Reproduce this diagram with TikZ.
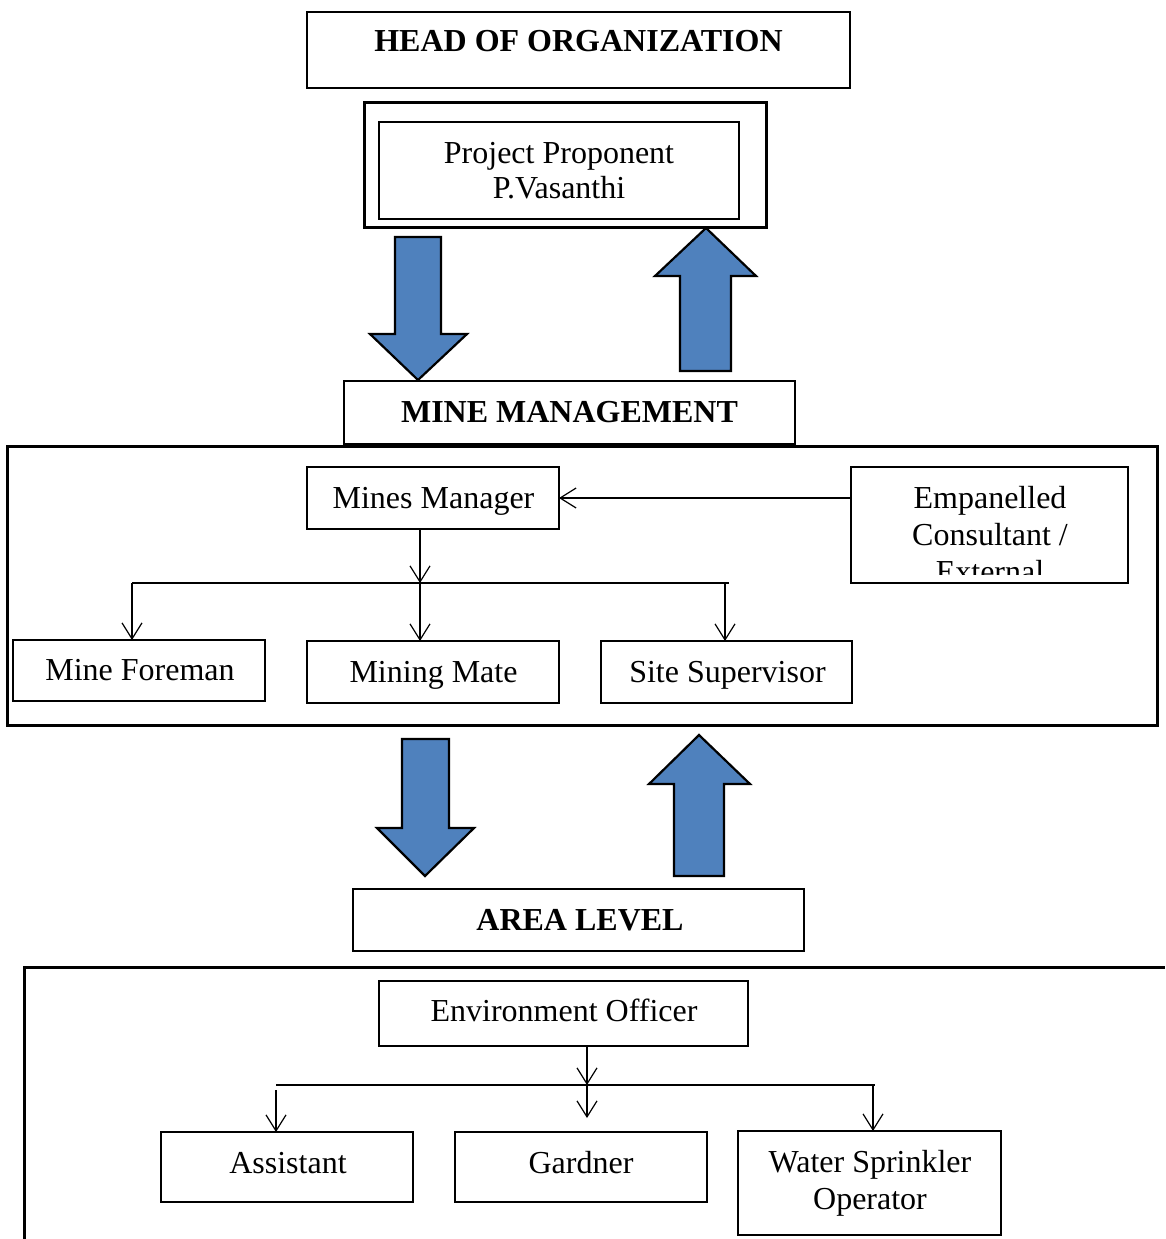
\documentclass[tikz,border=0pt]{standalone}
\usepackage{fontspec}
\setmainfont{Liberation Serif}
\usetikzlibrary{arrows.meta}
\definecolor{blockblue}{HTML}{4F81BD}
\tikzset{
  box/.style={draw, line width=1.3pt, inner sep=0pt, outer sep=0pt, anchor=north west},
  thickbox/.style={box, line width=3pt},
  lbl/.style={anchor=base, inner sep=0pt, font=\fontsize{32}{36}\selectfont},
  hdr/.style={lbl, font=\fontsize{32}{36}\selectfont\bfseries},
  conn/.style={line width=1.2pt, -{Straight Barb[length=16pt,width=20pt,line width=1.2pt]}},
  plainline/.style={line width=1.2pt},
  blockarrow/.style={fill=blockblue, draw=black, line width=2.2pt, line join=miter},
  frame/.style={line width=3pt}
}
\begin{document}
\begin{tikzpicture}[x=1pt,y=-1pt]
\useasboundingbox (0,0) rectangle (1165,1239);
% top
\node[box, minimum width=543pt, minimum height=76pt] (head) at (307,12) {};
\node[hdr] (headtext) at (578.5,52) {HEAD OF ORGANIZATION};
\node[thickbox, minimum width=402pt, minimum height=125pt] (ppouter) at (364,102) {};
\node[box, minimum width=360pt, minimum height=97pt] (pp) at (379,122) {};
\node[lbl] (pp1) at (559,163) {Project Proponent};
\node[lbl] (pp2) at (559,198) {P.Vasanthi};
% block arrows 1
\draw[blockarrow] (395,237) -- (441,237) -- (441,334) -- (467,334) -- (418,380) -- (370,334) -- (395,334) -- cycle;
\draw[blockarrow] (680,371) -- (731,371) -- (731,276) -- (756,276) -- (706,228) -- (655,276) -- (680,276) -- cycle;
% mine management
\node[box, minimum width=451pt, minimum height=63pt] (mmgmt) at (344,381) {};
\node[hdr] (mmgmttext) at (569.5,422) {MINE MANAGEMENT};
\node[thickbox, minimum width=1150pt, minimum height=279pt] (frame1) at (7,446) {};
\node[box, minimum width=252pt, minimum height=62pt] (mm) at (307,467) {};
\node[lbl] (mmtext) at (433.5,508) {Mines Manager};
\node[box, minimum width=277pt, minimum height=116pt] (emp) at (851,467) {};
\node[lbl] (emp1) at (990,508) {Empanelled};
\node[lbl] (emp2) at (990,545) {Consultant /};
\begin{scope}
  \clip (852,468) rectangle (1127,574);
  \node[lbl] (emp3) at (990,582) {External};
\end{scope}
\node[box, minimum width=252pt, minimum height=61pt] (mf) at (13,640) {};
\node[lbl] (mftext) at (140,680) {Mine Foreman};
\node[box, minimum width=252pt, minimum height=62pt] (mate) at (307,641) {};
\node[lbl] (matetext) at (433.5,682) {Mining Mate};
\node[box, minimum width=251pt, minimum height=62pt] (ss) at (601,641) {};
\node[lbl] (sstext) at (727.5,682) {Site Supervisor};
\draw[conn] (mm.east -| emp.west) -- (mm.east);
\coordinate (b1) at (420,583);
\coordinate (bl) at (132,583);
\coordinate (br) at (729,583);
\coordinate (bs) at (725,583);
\draw[conn] (mm.south -| b1) -- (b1);
\draw[plainline] (bl) -- (br);
\draw[conn] (bl) -- (bl |- mf.north);
\draw[conn] (b1) -- (b1 |- mate.north);
\draw[conn] (bs) -- (bs |- ss.north);
% block arrows 2
\draw[blockarrow] (402,739) -- (449,739) -- (449,828) -- (474,828) -- (425,876) -- (377,828) -- (402,828) -- cycle;
\draw[blockarrow] (674,876) -- (724,876) -- (724,784) -- (750,784) -- (699,735) -- (649,784) -- (674,784) -- cycle;
% area level
\node[box, minimum width=451pt, minimum height=62pt] (area) at (353,889) {};
\node[hdr] (areatext) at (580,930) {AREA LEVEL};
\coordinate (fbl) at (24,1239);
\coordinate (ftl) at (24,967);
\coordinate (ftr) at (1165,967);
\draw[frame] (fbl) -- (ftl) -- (ftr);
\node[box, minimum width=369pt, minimum height=65pt] (eo) at (379,981) {};
\node[lbl] (eotext) at (564,1021) {Environment Officer};
\node[box, minimum width=252pt, minimum height=70pt] (asst) at (161,1132) {};
\node[lbl] (assttext) at (288,1173) {Assistant};
\node[box, minimum width=252pt, minimum height=70pt] (gard) at (455,1132) {};
\node[lbl] (gardtext) at (581,1173) {Gardner};
\node[box, minimum width=263pt, minimum height=104pt] (wso) at (738,1131) {};
\node[lbl] (wso1) at (870,1172) {Water Sprinkler};
\node[lbl] (wso2) at (870,1209) {Operator};
\coordinate (e1) at (587,1085);
\coordinate (el) at (276,1085);
\coordinate (er) at (875,1085);
\coordinate (ea) at (276,1090);
\coordinate (eg) at (587,1118);
\coordinate (ew) at (873,1085);
\draw[conn] (eo.south -| e1) -- (e1);
\draw[plainline] (el) -- (er);
\draw[conn] (ea) -- (ea |- asst.north);
\draw[conn] (e1) -- (eg);
\draw[conn] (ew) -- (ew |- wso.north);
\end{tikzpicture}
\end{document}
